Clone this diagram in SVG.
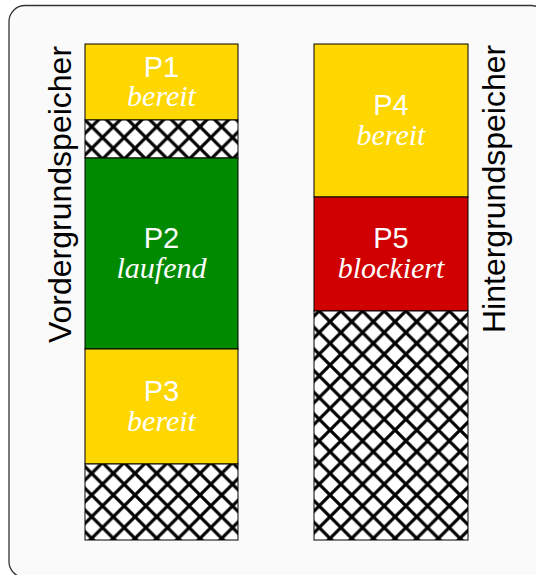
<svg xmlns="http://www.w3.org/2000/svg" width="536" height="575" viewBox="0 0 536 575">
  <defs>
    <pattern id="hatch" patternUnits="userSpaceOnUse" x="5" y="18.3" width="21.67" height="21.67">
      <rect width="21.67" height="21.67" fill="#ffffff"/>
      <path d="M-2,-2 L23.67,23.67 M23.67,-2 L-2,23.67" stroke="#000" stroke-width="3.2" fill="none"/>
    </pattern>
  </defs>
  <style>
    .blk { stroke: #000; stroke-width: 1; }
    .lbl { fill: #ffffff; text-anchor: middle; }
    .name { font-family: "Liberation Sans", Arial, sans-serif; font-size: 29px; font-style: normal; }
    .state { font-family: "Liberation Serif", "Times New Roman", serif; font-style: italic; font-size: 30px; }
    .side { font-family: "Liberation Sans", Arial, sans-serif; font-size: 32px; fill: #000; }
  </style>
  <rect x="0" y="0" width="536" height="575" fill="#ffffff"/>
  <rect id="frame" x="9" y="5.5" width="538" height="572" rx="16" ry="16" fill="#fafafa" stroke="#333" stroke-width="1.3"/>

  <g id="label-vorder">
    <text class="side" transform="translate(71,343) rotate(-90)">Vordergrundspeicher</text>
  </g>
  <g id="label-hinter">
    <text class="side" transform="translate(505,333) rotate(-90)">Hintergrundspeicher</text>
  </g>

  <g id="P1">
    <rect class="blk" x="85" y="44" width="153" height="76" fill="#ffd700"/>
    <text class="lbl"><tspan class="name" x="161.5" y="77">P1</tspan><tspan class="state" x="161.5" y="106">bereit</tspan></text>
  </g>
  <g id="free1">
    <rect class="blk" x="85" y="120" width="153" height="38" fill="url(#hatch)"/>
  </g>
  <g id="P2">
    <rect class="blk" x="85" y="158" width="153" height="191" fill="#008a00"/>
    <text class="lbl"><tspan class="name" x="161.5" y="247.5">P2</tspan><tspan class="state" x="161.5" y="278">laufend</tspan></text>
  </g>
  <g id="P3">
    <rect class="blk" x="85" y="349" width="153" height="115" fill="#ffd700"/>
    <text class="lbl"><tspan class="name" x="161.5" y="400.5">P3</tspan><tspan class="state" x="161.5" y="430.5">bereit</tspan></text>
  </g>
  <g id="free2">
    <rect class="blk" x="85" y="464" width="153" height="76" fill="url(#hatch)"/>
  </g>

  <g id="P4">
    <rect class="blk" x="314" y="44" width="154" height="153" fill="#ffd700"/>
    <text class="lbl"><tspan class="name" x="391" y="114.5">P4</tspan><tspan class="state" x="391" y="144.5">bereit</tspan></text>
  </g>
  <g id="P5">
    <rect class="blk" x="314" y="197" width="154" height="114" fill="#d00000"/>
    <text class="lbl"><tspan class="name" x="391" y="247.5">P5</tspan><tspan class="state" x="391" y="278">blockiert</tspan></text>
  </g>
  <g id="free3">
    <rect class="blk" x="314" y="311" width="154" height="229" fill="url(#hatch)"/>
  </g>

  <g id="connectors"></g>
</svg>
